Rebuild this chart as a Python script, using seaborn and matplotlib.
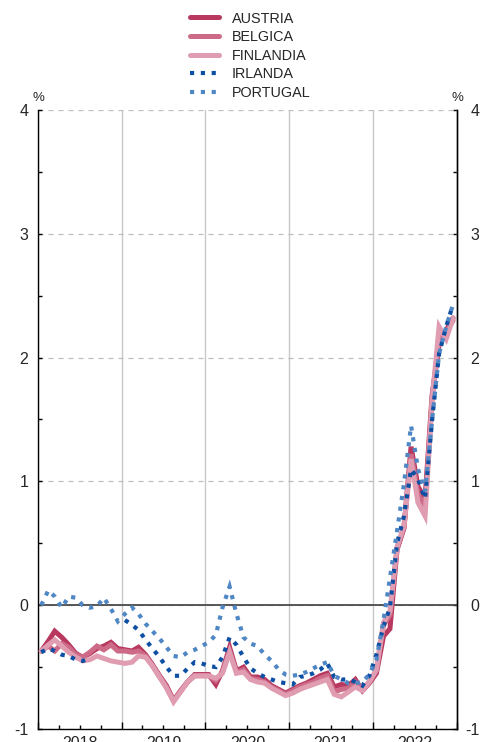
import numpy as np
import pandas as pd
import seaborn as sns
import matplotlib
matplotlib.use("Agg")
from matplotlib import pyplot as plt
from matplotlib import ticker
import matplotlib.dates as mdates

# monthly values, Jan 2018 - Dec 2022 (%)
austria = [
    -0.37, -0.29, -0.21, -0.26, -0.32, -0.39, -0.42, -0.39, -0.35, -0.33, -0.30, -0.35,
    -0.36, -0.37, -0.34, -0.40, -0.48, -0.57, -0.65, -0.77, -0.69, -0.62, -0.56, -0.56,
    -0.56, -0.64, -0.53, -0.34, -0.53, -0.50, -0.58, -0.58, -0.60, -0.65, -0.68, -0.71,
    -0.68, -0.65, -0.63, -0.60, -0.57, -0.55, -0.66, -0.64, -0.65, -0.60, -0.69, -0.63,
    -0.55, -0.25, -0.19, 0.45, 0.62, 1.28, 0.96, 0.86, 1.70, 2.10, 2.22, 2.32,
]
belgica = [
    -0.37, -0.33, -0.37, -0.31, -0.34, -0.40, -0.42, -0.38, -0.33, -0.36, -0.32, -0.37,
    -0.37, -0.38, -0.37, -0.41, -0.49, -0.58, -0.66, -0.77, -0.69, -0.62, -0.57, -0.57,
    -0.57, -0.61, -0.54, -0.37, -0.54, -0.52, -0.59, -0.60, -0.62, -0.66, -0.69, -0.72,
    -0.69, -0.66, -0.64, -0.62, -0.59, -0.57, -0.70, -0.68, -0.67, -0.62, -0.68, -0.62,
    -0.53, -0.16, -0.08, 0.46, 0.63, 1.22, 0.90, 0.80, 1.68, 2.15, 2.20, 2.30,
]
finlandia = [
    -0.37, -0.32, -0.28, -0.33, -0.38, -0.42, -0.45, -0.44, -0.41, -0.43, -0.45, -0.46,
    -0.47, -0.46, -0.41, -0.42, -0.49, -0.58, -0.67, -0.78, -0.70, -0.62, -0.57, -0.57,
    -0.57, -0.59, -0.55, -0.38, -0.55, -0.54, -0.60, -0.62, -0.63, -0.67, -0.70, -0.73,
    -0.71, -0.68, -0.66, -0.64, -0.62, -0.60, -0.72, -0.74, -0.70, -0.66, -0.69, -0.62,
    -0.52, -0.14, -0.05, 0.47, 0.64, 1.18, 0.83, 0.72, 1.66, 2.25, 2.15, 2.32,
]
irlanda = [
    -0.38, -0.35, -0.37, -0.40, -0.41, -0.44, -0.45, -0.43, np.nan, np.nan, np.nan, np.nan,
    -0.12, -0.16, -0.20, -0.28, -0.35, -0.42, -0.50, -0.57, -0.57, -0.51, -0.46, -0.47,
    -0.49, -0.50, -0.42, -0.26, -0.32, -0.42, -0.51, -0.55, -0.58, -0.60, -0.62, -0.63,
    -0.64, -0.58, -0.57, -0.55, -0.52, -0.47, -0.58, -0.60, -0.60, -0.62, -0.65, -0.57,
    -0.40, -0.17, -0.02, 0.50, 0.72, 1.10, 1.02, 0.86, 1.50, 2.03, 2.25, 2.43,
]
portugal = [
    0.00, 0.12, 0.07, -0.02, 0.07, 0.06, 0.00, -0.02, -0.01, 0.06, -0.03, -0.13,
    -0.07, -0.02, -0.07, -0.15, -0.21, -0.27, -0.34, -0.41, -0.42, -0.38, -0.36, -0.33,
    -0.30, -0.24, -0.02, 0.15, -0.07, -0.26, -0.31, -0.33, -0.40, -0.45, -0.52, -0.56,
    -0.57, -0.56, -0.54, -0.51, -0.48, -0.46, -0.57, -0.60, -0.63, -0.63, -0.62, -0.56,
    -0.44, -0.12, 0.22, 0.60, 0.98, 1.45, 1.10, 0.92, 1.50, 2.03, 2.25, 2.43,
]
year_labels = ["2018", "2019", "2020", "2021", "2022"]

dates = pd.date_range("2018-01-01", periods=60, freq="MS") + pd.Timedelta(days=14)
series = {
    "AUSTRIA": austria,
    "BELGICA": belgica,
    "FINLANDIA": finlandia,
    "IRLANDA": irlanda,
    "PORTUGAL": portugal,
}
styles = {
    "AUSTRIA": dict(color="#b8385f", lw=3.6, ls="-"),
    "BELGICA": dict(color="#cd6a87", lw=3.6, ls="-"),
    "FINLANDIA": dict(color="#e09cb1", lw=3.6, ls="-"),
    "IRLANDA": dict(color="#0d4fa3", lw=3.0, ls=(0, (1, 1.6))),
    "PORTUGAL": dict(color="#4f86c4", lw=3.0, ls=(0, (1, 1.6))),
}

sns.set_style("ticks")
plt.rcParams["font.family"] = ["Liberation Sans", "DejaVu Sans"]
plt.rcParams["axes.unicode_minus"] = False

fig = plt.figure(figsize=(4.81, 7.42), dpi=100)
ax = fig.add_axes([0.079, 0.0175, 0.871, 0.8343])

handles = {}
for name, vals in series.items():
    df = pd.DataFrame({"date": dates, "value": vals})
    df["seg"] = df["value"].isna().cumsum()  # split the line where data is missing
    df = df.dropna()
    st = styles[name]
    sns.lineplot(data=df, x="date", y="value", units="seg", estimator=None, ax=ax,
                 color=st["color"], linewidth=st["lw"], linestyle=st["ls"],
                 solid_joinstyle="miter", dash_joinstyle="miter", dash_capstyle="butt",
                 zorder=3)
    handles[name] = ax.lines[-1]

ax.axhline(0, color="#4a4a4a", lw=1.3, zorder=2)

ax.set_xlim(pd.Timestamp("2018-01-01"), pd.Timestamp("2023-01-01"))
ax.set_ylim(-1, 4)
ax.set_xlabel("")
ax.set_ylabel("")

# x axis: year boundaries + quarters, labels centred in each year
ax.xaxis.set_major_locator(mdates.YearLocator())
ax.xaxis.set_minor_locator(mdates.MonthLocator(bymonth=[4, 7, 10]))
ax.xaxis.set_major_formatter(ticker.NullFormatter())
ax.tick_params(axis="x", which="major", direction="in", length=5, width=1, color="black")
ax.tick_params(axis="x", which="minor", direction="in", length=3, width=1, color="black")
secx = ax.secondary_xaxis("bottom")
secx.set_xticks([mdates.date2num(pd.Timestamp(f"{y}-07-02")) for y in year_labels], labels=year_labels)
secx.tick_params(length=0, pad=5, labelsize=11.5)
secx.spines["bottom"].set_visible(False)

# y axis left and right
ax.yaxis.set_major_locator(ticker.MultipleLocator(1))
ax.yaxis.set_minor_locator(ticker.MultipleLocator(0.5))
ax.tick_params(axis="y", which="both", direction="in", length=3, width=1, color="black",
               labelsize=11.5, pad=7)
secy = ax.secondary_yaxis("right")
secy.yaxis.set_major_locator(ticker.MultipleLocator(1))
secy.yaxis.set_minor_locator(ticker.MultipleLocator(0.5))
secy.tick_params(axis="y", which="both", direction="in", length=3, width=1, color="black",
                 labelsize=11.5, pad=16)
for lab in secy.get_yticklabels():
    lab.set_horizontalalignment("right")

ax.grid(axis="x", which="major", color="#c8c8c8", lw=1, ls="-", zorder=0)
ax.grid(axis="y", which="major", color="#bdbdbd", lw=0.9, ls=(0, (4, 4)), zorder=0)

for side in ["left", "right", "bottom"]:
    ax.spines[side].set_color("black")
    ax.spines[side].set_linewidth(1)
ax.spines["top"].set_visible(False)
secy.spines["right"].set_linewidth(1)

ax.text(0, 1.01, "%", transform=ax.transAxes, ha="center", va="bottom", fontsize=9.5)
ax.text(1, 1.01, "%", transform=ax.transAxes, ha="center", va="bottom", fontsize=9.5)

fig.legend(list(handles.values()), list(handles.keys()), loc="upper center",
           bbox_to_anchor=(0.52, 1.002), frameon=False, fontsize=10.4,
           handlelength=2.0, handletextpad=0.9, labelspacing=0.32)

fig.savefig("out.png", dpi=100)
